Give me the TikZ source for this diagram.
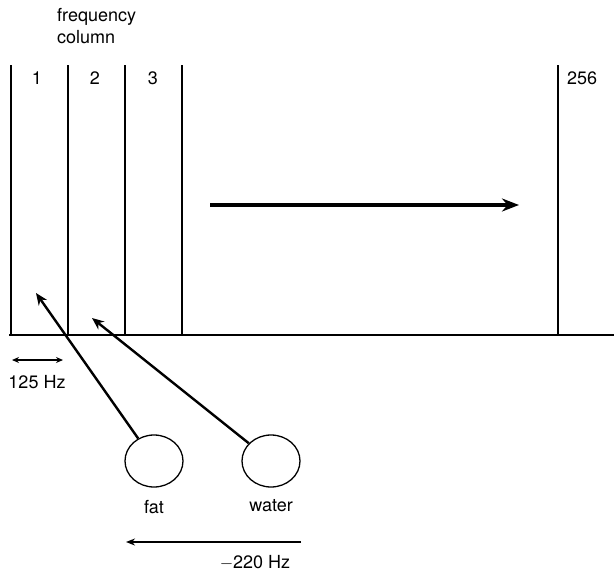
\documentclass[tikz,border=0pt]{standalone}
\usepackage{fontspec}
\setmainfont{TeX Gyre Heros}
\usetikzlibrary{arrows.meta, shapes.geometric, positioning}

\begin{document}
\begin{tikzpicture}[
  x=1pt, y=-1pt,
  col/.style={line width=2.6pt},
  lbl/.style={font=\fontsize{18}{22}\selectfont, inner sep=0pt},
  dot/.style={ellipse, draw, line width=1.3pt, minimum width=58pt, minimum height=52pt},
  arr/.style={-{Stealth[length=12pt,width=10pt]}, line width=2.4pt},
  bigarr/.style={-{Stealth[length=17pt,width=13pt]}, line width=4.6pt},
  dimarr/.style={{Stealth[length=7pt,width=6pt]}-{Stealth[length=7pt,width=6pt]}, line width=1.3pt},
  shiftarr/.style={-{Stealth[length=9pt,width=7pt]}, line width=1.7pt},
]
\useasboundingbox (0,0) rectangle (614,573);

%% Frequency columns
\draw[col] (11,65)  -- (11,335);
\draw[col] (68,65)  -- (68,335);
\draw[col] (125,65) -- (125,335);
\draw[col] (182,65) -- (182,335);
\draw[col] (558,65) -- (558,335);
\draw[col] (9,335)  -- (614,335);

%% Column labels
\node[lbl, align=left, anchor=north west] (title) at (57,8) {frequency\\column};
\node[lbl] (c1)   at (37,78)  {1};
\node[lbl] (c2)   at (95,78)  {2};
\node[lbl] (c3)   at (153,78) {3};
\node[lbl, anchor=west] (c256) at (567,78) {256};

%% Readout direction
\coordinate (rstart) at (210,205);
\coordinate (rend)   at (519,205);
\draw[bigarr] (rstart) -- (rend);

%% Column width
\coordinate (wl) at (12,360);
\coordinate (wr) at (63,360);
\draw[dimarr] (wl) -- (wr);
\node[lbl] (width) at (37,382) {125 Hz};

%% Spins
\node[dot] (fat)   at (154,461) {};
\node[dot] (water) at (271,461) {};
\node[lbl, below=12pt of fat]   (fatlbl)   {fat};
\node[lbl, below=12pt of water] (waterlbl) {water};

\coordinate (tipfat)   at (36,293);
\coordinate (tipwater) at (92,318);
\draw[arr] (fat)   -- (tipfat);
\draw[arr] (water) -- (tipwater);

%% Chemical shift
\coordinate (sstart) at (301,542);
\coordinate (send)   at (126,542);
\draw[shiftarr] (sstart) -- (send);
\node[lbl] (shift) at (255,563) {$-$220 Hz};

\end{tikzpicture}
\end{document}
